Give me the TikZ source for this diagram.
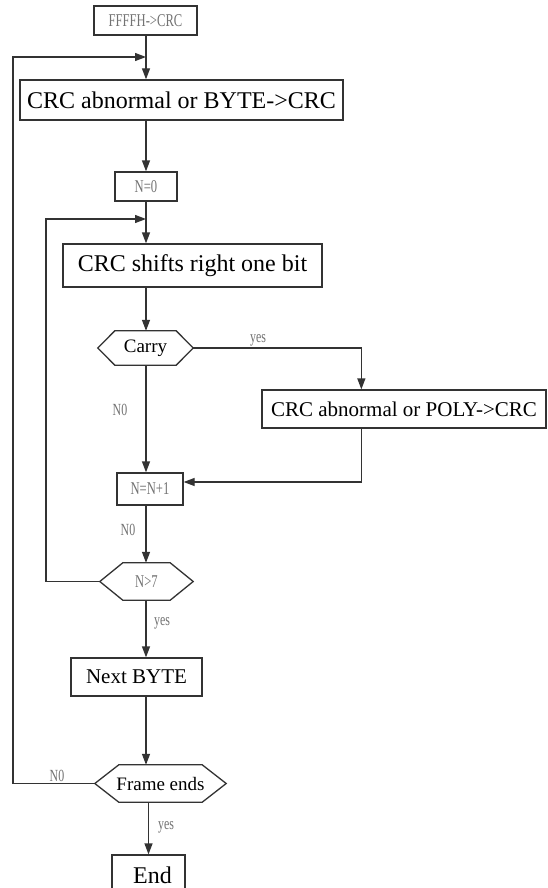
\documentclass[tikz,border=0pt]{standalone}
\usepackage{fontspec}
\setmainfont{Liberation Serif}
\newfontfamily\narrowfont[FakeStretch=0.7]{Liberation Serif}
\usetikzlibrary{arrows.meta}
\tikzset{
  line/.style={draw=black!80,line width=1.3pt},
  arr/.style={line,-{Triangle[length=11pt,width=8pt]}},
  box/.style={line,rectangle,inner sep=0pt},
  hexa/.style={rectangle,inner sep=0pt},
  small/.style={text=black!55,font=\narrowfont\fontsize{18}{20}\selectfont},
  tag/.style={text=black!55,font=\narrowfont\fontsize{17}{19}\selectfont},
}
\newcommand\fs[1]{\fontsize{#1}{#1}\selectfont}
% hexagon outline round a plain node, #2 = inset of the points
\newcommand\hexline[2]{\draw[line] (#1.west) -- ([xshift=#2]#1.north west) -- ([xshift=-#2]#1.north east) -- (#1.east) -- ([xshift=-#2]#1.south east) -- ([xshift=#2]#1.south west) -- cycle;}
\begin{document}
\begin{tikzpicture}[x=1pt,y=-1pt]
\useasboundingbox[fill=white] (0,0) rectangle (547,888);
\coordinate (axis) at (146,0);
\coordinate (outer) at (13,0);
\coordinate (inner) at (46,0);
\coordinate (j0) at (146,57);
\coordinate (j1) at (146,219);

\node[box,small,minimum width=103,minimum height=29] (init) at (145.5,20.5) {FFFFH->CRC};
\node[box,font=\fs{24},minimum width=323,minimum height=40] (byte) at (181.5,100) {CRC abnormal or BYTE->CRC};
\node[box,small,minimum width=62,minimum height=29] (nzero) at (146,186.5) {N=0};
\node[box,font=\fs{24},minimum width=259,minimum height=43] (shift) at (192.5,265.5) {CRC shifts right one bit};
\node[hexa,font=\fs{19},minimum width=95,minimum height=34] (carry) at (145.5,348) {Carry};
\node[box,font=\fs{21},minimum width=284,minimum height=38] (poly) at (404,409) {CRC abnormal or POLY->CRC};
\node[box,small,minimum width=66,minimum height=32] (ninc) at (150,489) {N=N+1};
\node[hexa,small,minimum width=93,minimum height=37] (ngt) at (146.5,581.5) {N>7};
\node[box,font=\fs{21},minimum width=131,minimum height=38] (next) at (136.5,677) {Next BYTE};
\node[hexa,font=\fs{19},minimum width=131,minimum height=37] (frame) at (160.5,783.5) {Frame ends};
\node[box,font=\fs{24},minimum width=73,minimum height=40] (end) at (148.5,875) {\hspace{8pt}End};

\hexline{carry}{17}
\hexline{ngt}{23}
\hexline{frame}{24}

\node[tag] (yes1) at (258,340) {yes};
\node[tag] (no1) at (120,410) {N0};
\node[tag] (no2) at (128,530) {N0};
\node[tag] (yes2) at (162,623) {yes};
\node[tag] (no3) at (57,776) {N0};
\node[tag] (yes3) at (166,827) {yes};

\draw[arr] (axis |- init.south) -- (axis |- byte.north);
\draw[arr] (axis |- byte.south) -- (nzero.north);
\draw[arr] (nzero.south) -- (axis |- shift.north);
\draw[arr] (axis |- shift.south) -- (axis |- carry.north);
\draw[arr] (carry.east) -| ([xshift=100pt]poly.north west);
\draw[arr] (axis |- carry.south) -- (axis |- ninc.north);
\draw[arr] ([xshift=100pt]poly.south west) |- ([yshift=7pt]ninc.east);
\draw[arr] (axis |- ninc.south) -- (axis |- ngt.north);
\draw[arr] (axis |- ngt.south) -- (axis |- next.north);
\draw[arr] (axis |- next.south) -- (axis |- frame.north);
\draw[arr] (end.north |- frame.south) -- (end.north);
% loops back
\draw[arr] (ngt.west) -| (inner |- j1) -- (j1);
\draw[arr] (frame.west) -| (outer |- j0) -- (j0);
\end{tikzpicture}
\end{document}
